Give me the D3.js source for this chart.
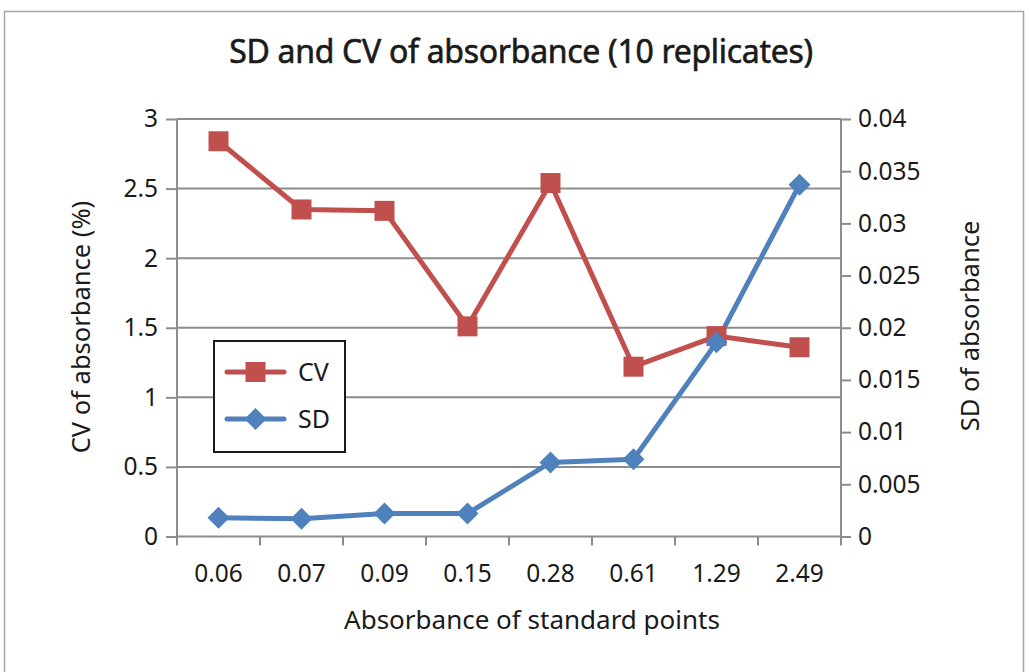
<!DOCTYPE html>
<html>
<head>
<meta charset="utf-8">
<script src="https://cdn.jsdelivr.net/npm/d3@7"></script>
<style>
  html, body { margin: 0; padding: 0; background: #fff; }
  #chart { width: 1029px; height: 672px; }
  text { font-family: "Noto Sans", sans-serif; fill: #1a1a1a; }
</style>
</head>
<body>
<div id="chart"></div>
<script>
// data
const categories = ["0.06", "0.07", "0.09", "0.15", "0.28", "0.61", "1.29", "2.49"];
const cvValues = [2.84, 2.35, 2.34, 1.51, 2.54, 1.22, 1.44, 1.36];
const sdValues = [0.0018, 0.0017, 0.0022, 0.0022, 0.0071, 0.0074, 0.0186, 0.0337];
const cvTicks = [0, 0.5, 1, 1.5, 2, 2.5, 3];
const sdTicks = [0, 0.005, 0.01, 0.015, 0.02, 0.025, 0.03, 0.035, 0.04];

const width = 1029, height = 672;
const margin = { top: 119, right: 188, bottom: 135, left: 177 };
const red = "#c0504d", blue = "#4f81bd", gridColor = "#8c8c8c";

const svg = d3.select("#chart")
  .append("svg")
  .attr("width", width)
  .attr("height", height);

// outer chart border
svg.append("rect")
  .attr("x", 4.5).attr("y", 11.5)
  .attr("width", 1019).attr("height", 700)
  .attr("fill", "none")
  .attr("stroke", "#a6a6a6")
  .attr("stroke-width", 1.5);

const x = d3.scaleBand()
  .domain(categories)
  .range([margin.left, width - margin.right]);

const yCV = d3.scaleLinear()
  .domain([0, 3])
  .range([height - margin.bottom - 0.5, margin.top]);

const ySD = d3.scaleLinear()
  .domain([0, 0.04])
  .range([height - margin.bottom - 0.5, margin.top]);

// gridlines
svg.append("g")
  .selectAll("line")
  .data(cvTicks.slice(1))
  .join("line")
  .attr("x1", margin.left).attr("x2", width - margin.right)
  .attr("y1", d => yCV(d)).attr("y2", d => yCV(d))
  .attr("stroke", gridColor)
  .attr("stroke-width", 2);

// axes
const leftAxis = svg.append("g")
  .attr("transform", `translate(${margin.left},0)`)
  .call(d3.axisLeft(yCV).tickValues(cvTicks).tickFormat(d3.format("")).tickSize(11).tickPadding(8));

const rightAxis = svg.append("g")
  .attr("transform", `translate(${width - margin.right},0)`)
  .call(d3.axisRight(ySD).tickValues(sdTicks).tickFormat(d => d === 0 ? "0" : d3.format("")(+d.toFixed(3))).tickSize(10).tickPadding(7));

const bottomAxis = svg.append("g")
  .attr("transform", `translate(0,${yCV(0)})`)
  .call(d3.axisBottom(x).tickSize(0).tickPadding(28));

// category boundary ticks
svg.append("g")
  .selectAll("line")
  .data(d3.range(categories.length + 1))
  .join("line")
  .attr("x1", i => margin.left + i * x.step())
  .attr("x2", i => margin.left + i * x.step())
  .attr("y1", yCV(0)).attr("y2", yCV(0) + 9)
  .attr("stroke", gridColor)
  .attr("stroke-width", 2);

[leftAxis, rightAxis, bottomAxis].forEach(g => {
  g.select(".domain").attr("stroke", gridColor).attr("stroke-width", 2);
  g.selectAll(".tick line").attr("stroke", gridColor).attr("stroke-width", 2);
  g.selectAll(".tick text")
    .attr("fill", "#1a1a1a")
    .style("font-family", "'Noto Sans', sans-serif")
    .style("font-size", "24.5px");
});
leftAxis.select(".domain").attr("d", `M0,${yCV(0)}V${yCV(3)}`);
rightAxis.select(".domain").attr("d", `M0,${ySD(0)}V${ySD(0.04)}`);
bottomAxis.select(".domain").attr("d", `M${margin.left},0H${width - margin.right}`);

// lines
const cx = d => x(d) + x.bandwidth() / 2;

const cvLine = d3.line()
  .x((d, i) => cx(categories[i]))
  .y(d => yCV(d));

const sdLine = d3.line()
  .x((d, i) => cx(categories[i]))
  .y(d => ySD(d));

svg.append("path")
  .datum(cvValues)
  .attr("d", cvLine)
  .attr("fill", "none")
  .attr("stroke", red)
  .attr("stroke-width", 5)
  .attr("stroke-linejoin", "round");

svg.append("path")
  .datum(sdValues)
  .attr("d", sdLine)
  .attr("fill", "none")
  .attr("stroke", blue)
  .attr("stroke-width", 5)
  .attr("stroke-linejoin", "round");

const square = d3.symbol().type(d3.symbolSquare).size(400);
// square rotated 45 degrees, equal diagonals
const diamond = () => "M0,-11L11,0L0,11L-11,0Z";

svg.append("g")
  .selectAll("path")
  .data(cvValues)
  .join("path")
  .attr("d", square)
  .attr("transform", (d, i) => `translate(${cx(categories[i])},${yCV(d)})`)
  .attr("fill", red);

svg.append("g")
  .selectAll("path")
  .data(sdValues)
  .join("path")
  .attr("d", diamond)
  .attr("transform", (d, i) => `translate(${cx(categories[i])},${ySD(d)})`)
  .attr("fill", blue);

// title
svg.append("text")
  .attr("x", 521).attr("y", 63)
  .attr("text-anchor", "middle")
  .style("font-size", "32px")
  .style("letter-spacing", "-0.3px")
  .attr("stroke", "#1a1a1a")
  .attr("stroke-width", 0.6)
  .text("SD  and CV of absorbance (10 replicates)");

// axis titles
svg.append("text")
  .attr("x", 532).attr("y", 629)
  .attr("text-anchor", "middle")
  .style("font-size", "26px")
  .text("Absorbance of standard points");

svg.append("text")
  .attr("transform", "translate(90,327) rotate(-90)")
  .attr("text-anchor", "middle")
  .style("font-size", "25.5px")
  .text("CV of absorbance (%)");

svg.append("text")
  .attr("transform", "translate(979,326) rotate(-90)")
  .attr("text-anchor", "middle")
  .style("font-size", "25.5px")
  .text("SD of absorbance");

// legend
const legend = svg.append("g");
legend.append("rect")
  .attr("x", 214).attr("y", 341)
  .attr("width", 131).attr("height", 111)
  .attr("fill", "#fff")
  .attr("stroke", "#1a1a1a")
  .attr("stroke-width", 2);

const legendItems = [
  { label: "CV", color: red, symbol: square, y: 372 },
  { label: "SD", color: blue, symbol: diamond, y: 419 }
];

const item = legend.selectAll(".item")
  .data(legendItems)
  .join("g")
  .attr("class", "item");

item.append("line")
  .attr("x1", 227).attr("x2", 284)
  .attr("y1", d => d.y).attr("y2", d => d.y)
  .attr("stroke", d => d.color)
  .attr("stroke-width", 5)
  .attr("stroke-linecap", "round");

item.append("path")
  .attr("d", d => d.symbol())
  .attr("transform", d => `translate(255.5,${d.y})`)
  .attr("fill", d => d.color);

item.append("text")
  .attr("x", 298).attr("y", d => d.y + 9)
  .style("font-size", "25px")
  .text(d => d.label);
</script>
</body>
</html>
